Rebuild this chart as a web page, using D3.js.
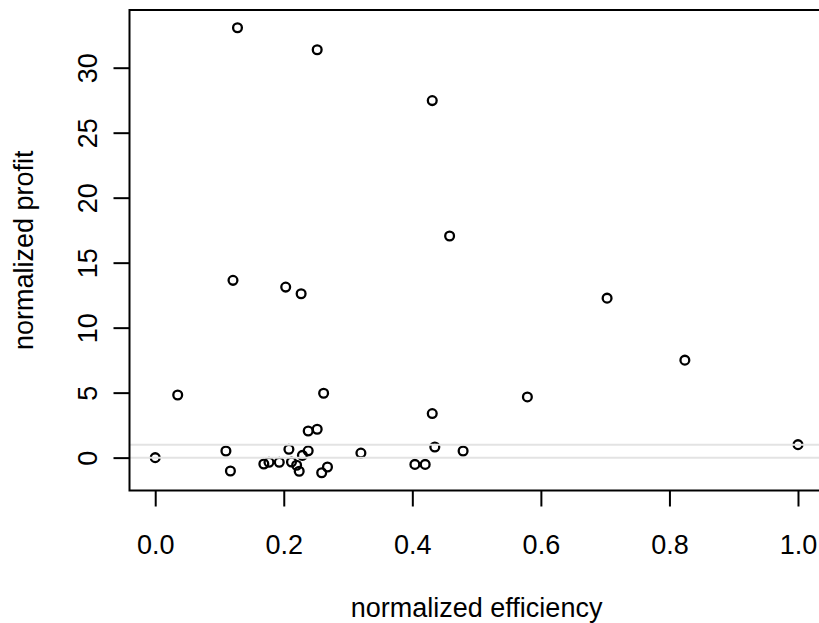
<!DOCTYPE html>
<html>
<head>
<meta charset="utf-8">
<script src="https://cdn.jsdelivr.net/npm/d3@7"></script>
<style>
  body { margin: 0; background: #fff; }
  text { font-family: "Liberation Sans", Arial, sans-serif; fill: #000; }
</style>
</head>
<body>
<div id="chart"></div>
<script>
// values
var efficiency = [0, 0.035, 0.110, 0.117, 0.121, 0.128, 0.169, 0.177, 0.193, 0.203,
                  0.208, 0.212, 0.220, 0.224, 0.227, 0.229, 0.238, 0.238, 0.252, 0.252,
                  0.259, 0.262, 0.268, 0.320, 0.404, 0.420, 0.431, 0.431, 0.435, 0.458,
                  0.479, 0.579, 0.703, 0.824, 1.0];
var profit = [0, 4.82, 0.51, -1.03, 13.64, 33.07, -0.49, -0.36, -0.36, 13.12,
              0.64, -0.34, -0.59, -1.05, 12.61, 0.17, 0.52, 2.05, 2.18, 31.38,
              -1.16, 4.95, -0.72, 0.35, -0.52, -0.52, 3.39, 27.47, 0.82, 17.05,
              0.51, 4.67, 12.27, 7.50, 1.0];
var xTicks = [0, 0.2, 0.4, 0.6, 0.8, 1.0];
var yTicks = [0, 5, 10, 15, 20, 25, 30];
var refLines = [0, 1];

var width = 819, height = 623;
var box = { left: 129.5, right: 823.7, top: 10, bottom: 490.5 };
var fontSize = 27;

var points = efficiency.map(function(d, i) { return { x: d, y: profit[i] }; });

// R style 4% padding round the data range
var xExt = d3.extent(efficiency), yExt = d3.extent(profit);
var xPad = (xExt[1] - xExt[0]) * 0.04, yPad = (yExt[1] - yExt[0]) * 0.04;

var x = d3.scaleLinear()
  .domain([xExt[0] - xPad, xExt[1] + xPad])
  .range([box.left, box.right]);
var y = d3.scaleLinear()
  .domain([yExt[0] - yPad, yExt[1] + yPad])
  .range([box.bottom, box.top]);

var svg = d3.select('#chart').append('svg')
  .attr('width', width)
  .attr('height', height);

svg.append('defs').append('clipPath').attr('id', 'plotclip')
  .append('rect')
  .attr('x', box.left).attr('y', box.top)
  .attr('width', box.right - box.left).attr('height', box.bottom - box.top);

var plot = svg.append('g').attr('clip-path', 'url(#plotclip)');

plot.selectAll('circle.pt')
    .data(points)
  .enter().append('circle')
    .attr('class', 'pt')
    .attr('cx', function(d) { return x(d.x); })
    .attr('cy', function(d) { return y(d.y); })
    .attr('r', 4.4)
    .attr('fill', 'none')
    .attr('stroke', '#000')
    .attr('stroke-width', 2.3);

// grey reference lines go over the points, as abline did
plot.selectAll('line.ref')
    .data(refLines)
  .enter().append('line')
    .attr('class', 'ref')
    .attr('x1', box.left)
    .attr('x2', box.right)
    .attr('y1', function(d) { return y(d); })
    .attr('y2', function(d) { return y(d); })
    .attr('stroke', '#e3e3e3')
    .attr('stroke-width', 2);

svg.append('rect')
  .attr('x', box.left).attr('y', box.top)
  .attr('width', box.right - box.left).attr('height', box.bottom - box.top)
  .attr('fill', 'none')
  .attr('stroke', '#000')
  .attr('stroke-width', 2);

// x axis
var xAxis = d3.axisBottom(x)
  .tickValues(xTicks)
  .tickSize(16)
  .tickFormat(d3.format('.1f'));
var gx = svg.append('g')
  .attr('transform', 'translate(0,' + box.bottom + ')')
  .call(xAxis);
gx.select('.domain').remove();
gx.selectAll('.tick line').attr('stroke', '#000').attr('stroke-width', 2);
gx.selectAll('.tick text')
  .attr('font-size', fontSize)
  .attr('font-family', '"Liberation Sans", Arial, sans-serif')
  .attr('y', null).attr('dy', null)
  .attr('transform', 'translate(0,63)');

// y axis, labels turned like R's las=0
var yAxis = d3.axisLeft(y)
  .tickValues(yTicks)
  .tickSize(16)
  .tickFormat(d3.format('d'));
var gy = svg.append('g')
  .attr('transform', 'translate(' + box.left + ',0)')
  .call(yAxis);
gy.select('.domain').remove();
gy.selectAll('.tick line').attr('stroke', '#000').attr('stroke-width', 2);
gy.selectAll('.tick text')
  .attr('font-size', fontSize)
  .attr('font-family', '"Liberation Sans", Arial, sans-serif')
  .attr('x', null).attr('dy', null)
  .attr('text-anchor', 'middle')
  .attr('transform', 'translate(-33,0) rotate(-90)');

svg.append('text')
  .attr('x', (box.left + box.right) / 2)
  .attr('y', 617)
  .attr('text-anchor', 'middle')
  .attr('font-size', fontSize)
  .text('normalized efficiency');

svg.append('text')
  .attr('transform', 'translate(33,' + (box.top + box.bottom) / 2 + ') rotate(-90)')
  .attr('text-anchor', 'middle')
  .attr('font-size', fontSize)
  .text('normalized profit');
</script>
</body>
</html>
